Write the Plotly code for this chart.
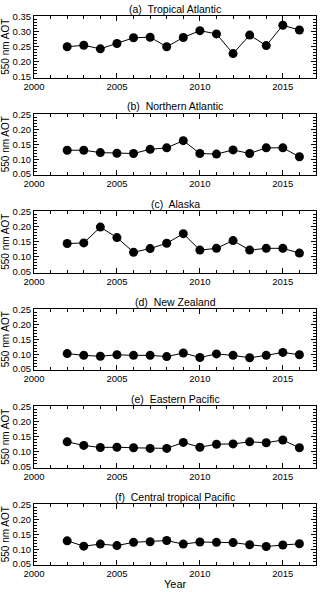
import plotly.graph_objects as go
from plotly.subplots import make_subplots

years = list(range(2002, 2017))

titles = ["(a)  Tropical Atlantic", "(b)  Northern Atlantic", "(c)  Alaska",
          "(d)  New Zealand", "(e)  Eastern Pacific", "(f)  Central tropical Pacific"]

tropical_atlantic = [0.250, 0.255, 0.243, 0.261, 0.280, 0.282, 0.250, 0.281,
                     0.304, 0.293, 0.227, 0.289, 0.254, 0.322, 0.306]
northern_atlantic = [0.130, 0.130, 0.122, 0.120, 0.119, 0.133, 0.138, 0.162,
                     0.119, 0.117, 0.131, 0.119, 0.138, 0.138, 0.108]
alaska = [0.144, 0.146, 0.199, 0.164, 0.115, 0.127, 0.145, 0.177,
          0.122, 0.128, 0.154, 0.122, 0.128, 0.128, 0.112]
new_zealand = [0.102, 0.096, 0.093, 0.098, 0.096, 0.096, 0.092, 0.104,
               0.089, 0.101, 0.096, 0.088, 0.096, 0.106, 0.098]
eastern_pacific = [0.133, 0.121, 0.114, 0.115, 0.113, 0.111, 0.111, 0.131,
                   0.115, 0.125, 0.126, 0.133, 0.130, 0.139, 0.113]
central_pacific = [0.128, 0.110, 0.117, 0.112, 0.123, 0.125, 0.129, 0.117,
                   0.124, 0.123, 0.122, 0.115, 0.109, 0.114, 0.118]

series = [tropical_atlantic, northern_atlantic, alaska,
          new_zealand, eastern_pacific, central_pacific]
y_ranges = [[0.147, 0.353]] + [[0.047, 0.253]] * 5

W, H = 320, 592
mt, mb = 16, 27
plot_h = H - mt - mb
panel_h = 61.5
step = 97.5

fig = make_subplots(rows=6, cols=1)
font = "Liberation Sans"

for i, vals in enumerate(series):
    r = i + 1
    top = i * step
    y1 = min(1, 1 - top / plot_h)
    y0 = max(0, 1 - (top + panel_h) / plot_h)
    fig.add_trace(go.Scatter(x=years, y=vals, mode="lines+markers",
                             line=dict(color="black", width=1),
                             marker=dict(color="black", size=9),
                             showlegend=False), row=r, col=1)
    fig.update_yaxes(domain=[y0, y1], row=r, col=1)
    fig.add_annotation(text=titles[i], x=0.5, y=y1, xref="paper", yref="paper",
                       yanchor="middle", yshift=7, showarrow=False,
                       font=dict(family=font, size=10.5, color="black"))

axis_style = dict(showline=True, linecolor="black", linewidth=1, mirror="allticks",
                  ticks="inside", ticklen=5, tickcolor="black", showgrid=False,
                  zeroline=False, automargin=False,
                  tickfont=dict(family=font, size=9.5, color="black"))

fig.update_xaxes(range=[2000, 2017], dtick=5, tick0=2000,
                 minor=dict(ticks="inside", ticklen=3, dtick=1, tickcolor="black"),
                 **axis_style)
fig.update_yaxes(dtick=0.05, tick0=0, tickformat=".2f",
                 minor=dict(ticks="inside", ticklen=3, dtick=0.01, tickcolor="black"),
                 title=dict(text="550 nm AOT", font=dict(family=font, size=10, color="black"),
                            standoff=3),
                 **axis_style)
for i, rng in enumerate(y_ranges):
    fig.update_yaxes(range=rng, row=i + 1, col=1)

fig.add_annotation(text="Year", x=0.5, y=0, xref="paper", yref="paper",
                   yanchor="middle", yshift=-19, showarrow=False,
                   font=dict(family=font, size=11, color="black"))

fig.update_layout(width=W, height=H, margin=dict(l=34, r=4, t=mt, b=mb),
                  plot_bgcolor="white", paper_bgcolor="white")

# page body has a default 8px margin; drop it so the figure sits at 0,0
fig.write_html("out.html", config={"displayModeBar": False},
               post_script="document.body.style.margin='0';")
